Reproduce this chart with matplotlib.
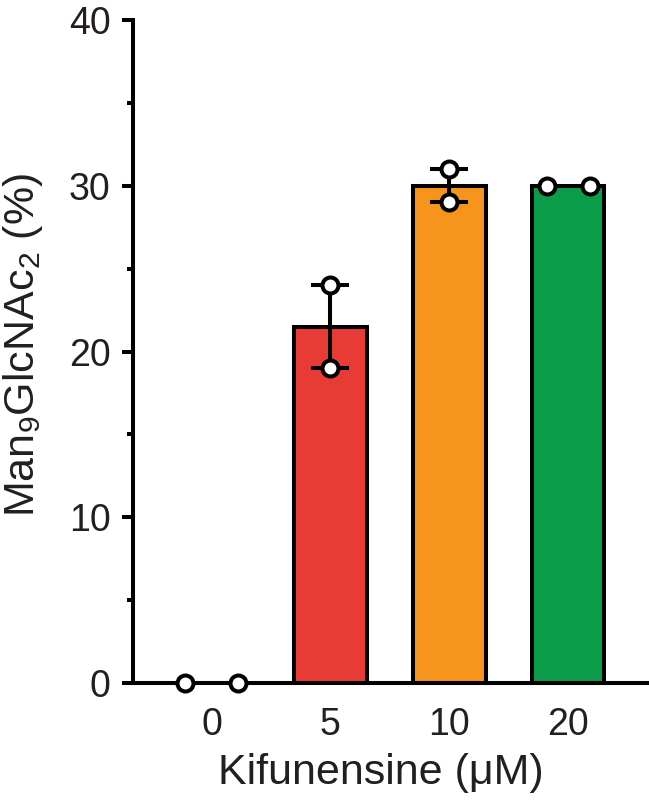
import matplotlib
matplotlib.use("Agg")
import matplotlib.pyplot as plt
import numpy as np

plt.rcParams['font.family'] = ['Liberation Sans', 'DejaVu Sans']
plt.rcParams['mathtext.fontset'] = 'custom'
plt.rcParams['mathtext.rm'] = 'Liberation Sans'

categories = ['0', '5', '10', '20']
replicates = [[0, 0], [24, 19], [31, 29], [30, 30]]
point_offsets = [[-0.22, 0.22], [0, 0], [0, 0], [-0.18, 0.18]]
colors = ['#FFFFFF', '#E83B35', '#F7941D', '#0B9C4A']

means = [np.mean(r) for r in replicates]
sems = [np.std(r, ddof=1) / np.sqrt(len(r)) for r in replicates]

fig = plt.figure(figsize=(6.49, 8.0), dpi=100)
ax = fig.add_axes([133/649, 1 - 683/800, 1 - 133/649, (683 - 20)/800])

x = np.arange(len(categories))
ax.bar(x, means, width=0.61, color=colors, edgecolor='black', linewidth=2.9, zorder=2)

for i in range(len(categories)):
    if sems[i] > 0:
        ax.errorbar(x[i], means[i], yerr=sems[i], fmt='none', ecolor='black',
                    elinewidth=2.9, capsize=14, capthick=2.9, zorder=3)
    xs = [x[i] + o for o in point_offsets[i]]
    ax.plot(xs, replicates[i], 'o', markersize=11.5, markerfacecolor='white',
            markeredgecolor='black', markeredgewidth=2.9, zorder=4, clip_on=False,
            linestyle='none')

ax.set_xlim(-0.66, 3.68)
ax.set_ylim(0, 40)
ax.set_yticks([0, 10, 20, 30, 40])
ax.set_yticks([5, 15, 25, 35], minor=True)
ax.set_xticks(x)
ax.set_xticklabels(categories)

for s in ['top', 'right']:
    ax.spines[s].set_visible(False)
for s in ['left', 'bottom']:
    ax.spines[s].set_linewidth(2.9)

ax.tick_params(axis='y', which='major', length=8, width=2.9, labelsize=27, pad=8, direction='out')
ax.tick_params(axis='y', which='minor', length=4.5, width=2.9, direction='out')
ax.tick_params(axis='x', which='both', length=0, labelsize=27, pad=17)

ax.set_xlabel('Kifunensine (μM)', fontsize=31)
ax.xaxis.set_label_coords(0.48, -0.105)
ax.set_ylabel(r'Man$_{9}$GlcNAc$_{2}$ (%)', fontsize=31)
ax.yaxis.set_label_coords(-0.17, 0.51)

for lbl in ax.get_xticklabels() + ax.get_yticklabels():
    lbl.set_color('#231F20')
ax.xaxis.label.set_color('#231F20')
ax.yaxis.label.set_color('#231F20')

fig.savefig('out.png', dpi=100)
